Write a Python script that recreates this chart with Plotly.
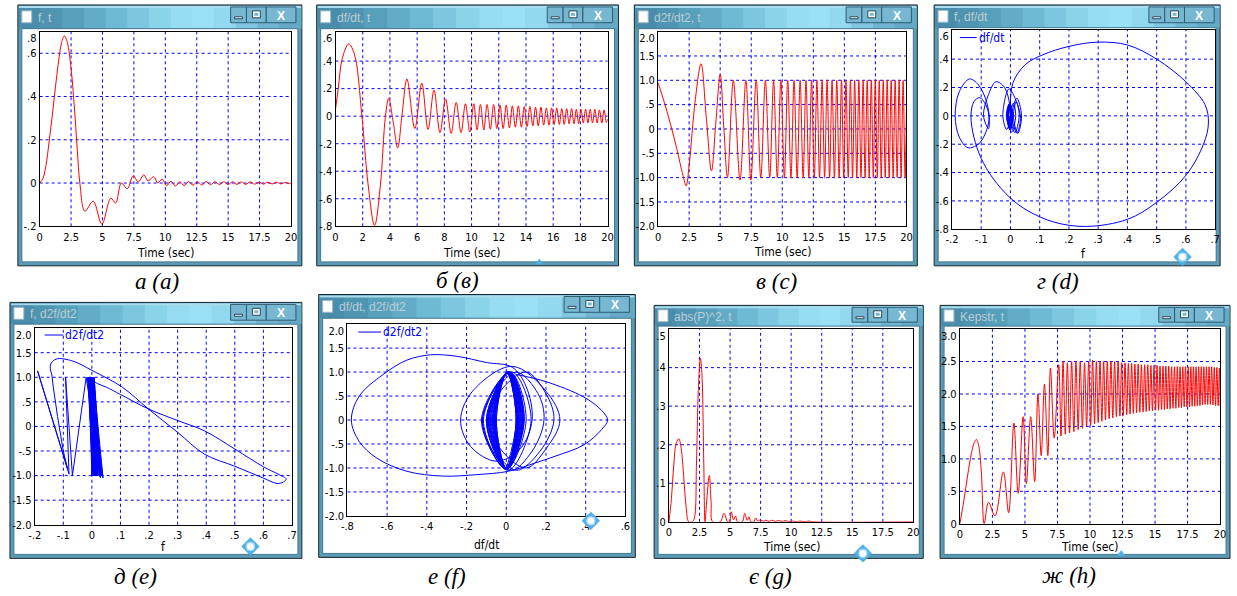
import plotly.graph_objects as go

W, H = 1237, 596

# ---------------- (a) f(t) ----------------
a_t = [0, 0.25, 0.5, 0.75, 1.0, 1.25, 1.5, 1.75, 1.97, 2.2,
       2.5, 2.75, 3.0, 3.2, 3.6, 4.26, 4.95, 5.66, 6.05, 6.5,
       6.97, 7.45, 7.84, 8.29, 8.63, 9.08, 9.4, 9.74, 10.1, 10.45,
       10.8, 11.15, 11.5, 11.85, 12.2, 12.55, 12.9, 13.25, 13.6, 13.95,
       14.3, 14.65, 15.0, 15.35, 15.7, 16.05, 16.4, 16.75, 17.1, 17.45,
       17.8, 18.15, 18.5, 18.85, 19.2, 19.55, 19.9, 20.0]
a_f = [0.0, 0.02, 0.08, 0.19, 0.31, 0.44, 0.56, 0.65, 0.68, 0.65,
       0.53, 0.36, 0.15, 0.0, -0.13, -0.084, -0.19, -0.07, -0.092, 0.0,
       -0.026, 0.034, 0.005, 0.038, 0.01, 0.03, 0.0, 0.018, -0.012, 0.008,
       -0.014, 0.006, -0.012, 0.007, -0.01, 0.006, -0.009, 0.007, -0.008, 0.006,
       -0.007, 0.006, -0.007, 0.006, -0.006, 0.005, -0.006, 0.005, -0.005, 0.004,
       -0.005, 0.004, -0.004, 0.004, -0.004, 0.003, -0.003, 0.0]

# ---------------- (b) df/dt(t) ----------------
b_t = [0, 0.2, 0.5, 0.97, 1.4, 1.94, 2.4, 2.87, 3.3, 3.67,
       3.91, 4.25, 4.57, 4.9, 5.25, 5.83, 6.34, 6.8, 7.24, 7.68,
       8.09, 8.5, 8.87, 9.23, 9.55, 9.87, 10.16, 10.4, 10.65, 10.9,
       11.14, 11.38, 11.62, 11.86, 12.09, 12.32, 12.55, 12.78, 13.0, 13.22,
       13.44, 13.66, 13.87, 14.08, 14.29, 14.5, 14.7, 14.9, 15.1, 15.3,
       15.5, 15.69, 15.88, 16.07, 16.26, 16.45, 16.63, 16.81, 16.99, 17.17,
       17.35, 17.53, 17.7, 17.87, 18.04, 18.21, 18.38, 18.55, 18.72, 18.89,
       19.06, 19.23, 19.4, 19.57, 19.74, 19.91, 20.0]
b_v = [0.05, 0.2, 0.42, 0.525, 0.445, 0.0, -0.5, -0.795, -0.5, 0.0,
       0.13, -0.05, -0.23, 0.02, 0.27, -0.09, 0.24, -0.096, 0.19, -0.12,
       0.125, -0.125, 0.10, -0.12, 0.09, -0.115, 0.09, -0.10, 0.085, -0.1,
       0.085, -0.095, 0.085, -0.09, 0.08, -0.09, 0.08, -0.085, 0.075, -0.08,
       0.075, -0.08, 0.07, -0.075, 0.07, -0.07, 0.065, -0.07, 0.065, -0.065,
       0.06, -0.065, 0.06, -0.06, 0.06, -0.06, 0.055, -0.06, 0.055, -0.055,
       0.055, -0.055, 0.05, -0.055, 0.05, -0.05, 0.05, -0.05, 0.05, -0.05,
       0.05, -0.05, 0.045, -0.05, 0.045, -0.045, -0.02]

# ---------------- (c) d2f/dt2(t) ----------------
c_t0 = [0, 0.5, 1.0, 1.5, 2.0, 2.26, 2.5, 3.0, 3.46, 3.88,
        4.3, 4.65, 5.0, 5.3, 5.59, 6.06, 6.6, 7.07, 7.47, 7.9,
        8.27, 8.64]
c_v0 = [0.95, 0.55, 0.1, -0.4, -0.95, -1.17, -0.75, 0.61, 1.34, 0.24,
        -0.86, 0.13, 1.12, 0.0, -1.0, 1.0, -1.05, 1.0, -1.05, 1.0,
        -1.0, 1.0]
c_trough_t = [8.99, 9.6, 10.17, 10.7, 11.2, 11.68, 12.14, 12.58, 13.0, 13.41,
              13.81, 14.2, 14.58, 14.95, 15.31, 15.66, 16.0, 16.34, 16.67, 17.0,
              17.33, 17.65, 17.97, 18.29, 18.61, 18.93, 19.25, 19.57, 19.89]
c_trough_v = [-1.0, -1.0, -1.0, -1.0, -1.0, -1.0, -1.0, -1.0, -1.0, -1.0,
              -1.0, -1.0, -1.0, -1.0, -1.0, -1.0, -1.0, -1.0, -1.0, -1.0,
              -1.0, -1.0, -1.0, -1.0, -1.0, -1.0, -1.0, -1.0, -1.0]
c_peak_t = [9.3, 9.89, 10.44, 10.95, 11.44, 11.91, 12.36, 12.79, 13.21, 13.61,
            14.01, 14.39, 14.77, 15.13, 15.49, 15.83, 16.17, 16.51, 16.84, 17.17,
            17.49, 17.81, 18.13, 18.45, 18.77, 19.09, 19.41, 19.73]
c_peak_v = [1.0, 1.0, 1.0, 1.0, 1.0, 1.0, 1.0, 1.0, 1.0, 1.0,
            1.0, 1.0, 1.0, 1.0, 1.0, 1.0, 1.0, 1.0, 1.0, 1.0,
            1.0, 1.0, 1.0, 1.0, 1.0, 1.0, 1.0, 1.0]
c_end_t = [20.0]
c_end_v = [0.5]

# ---------------- (d) f vs df/dt ----------------
d_x = [0.0, 0.008, 0.05, 0.11, 0.2, 0.3, 0.4, 0.5, 0.6, 0.665,
       0.677, 0.66, 0.6, 0.5, 0.4, 0.26, 0.15, 0.06, 0.0, -0.06,
       -0.1, -0.125, -0.135, -0.125, -0.105, -0.085, -0.073, -0.085, -0.11, -0.145,
       -0.175, -0.189, -0.175, -0.14, -0.11, -0.085, -0.073, -0.075, -0.092, -0.075,
       -0.05, -0.02, 0.0,
       -0.013, -0.026, -0.005, 0.034, 0.022, 0.005, 0.022, 0.038, 0.025, 0.01,
       0.02, 0.03, 0.015, 0.0, 0.01, 0.018, 0.004, -0.012, -0.002, 0.008,
       0.0, -0.014, -0.004, 0.006, -0.002, -0.012, -0.003, 0.007, -0.001, -0.01,
       -0.002, 0.006, -0.001, -0.009, -0.002, 0.006, -0.001, -0.008, -0.001, 0.005,
       0.0, -0.007, -0.001, 0.005, 0.0, -0.006, -0.001, 0.004, 0.0, -0.006,
       -0.001, 0.004, 0.0, -0.005]
d_y = [0.05, 0.23, 0.36, 0.43, 0.49, 0.52, 0.5, 0.4, 0.24, 0.08,
       -0.05, -0.2, -0.42, -0.61, -0.73, -0.78, -0.75, -0.67, -0.58, -0.44,
       -0.3, -0.15, 0.0, 0.1, 0.128, 0.08, -0.01, -0.12, -0.2, -0.225,
       -0.15, 0.0, 0.17, 0.26, 0.22, 0.12, 0.0, -0.09, 0.0, 0.15,
       0.24, 0.2, 0.0,
       -0.096, 0.0, 0.19, 0.0, -0.12, 0.0, 0.125, 0.0, -0.125, 0.0,
       0.10, 0.0, -0.12, 0.0, 0.09, 0.0, -0.115, 0.0, 0.09, 0.0,
       -0.1, 0.0, 0.085, 0.0, -0.1, 0.0, 0.085, 0.0, -0.09, 0.0,
       0.08, 0.0, -0.085, 0.0, 0.075, 0.0, -0.08, 0.0, 0.07, 0.0,
       -0.075, 0.0, 0.065, 0.0, -0.07, 0.0, 0.06, 0.0, -0.065, 0.0,
       0.055, 0.0, -0.06, 0.0]

# ---------------- (e) f vs d2f/dt2 ----------------
e_lobe_x = [0.0, 0.02, 0.05, 0.1, 0.2, 0.3, 0.394, 0.5, 0.6, 0.655,
            0.68, 0.67, 0.648, 0.6, 0.5, 0.394, 0.3, 0.198, 0.106, 0.0,
            -0.067, -0.125, -0.145, -0.14]
e_lobe_y = [0.95, 0.87, 0.8, 0.65, 0.35, 0.12, -0.09, -0.46, -0.82, -0.98,
            -1.07, -1.13, -1.16, -1.05, -0.81, -0.565, -0.12, 0.354, 0.8, 1.14,
            1.33, 1.37, 1.25, 1.05]
e_tail_x = [-0.14, -0.135, -0.12, -0.1, -0.085, -0.19, -0.08, -0.092, -0.068,
            -0.02, 0.035, -0.005, 0.039, 0.005, 0.032, 0.008, 0.028, 0.0, 0.02,
            -0.01, 0.012, -0.015, 0.006, -0.012, 0.004, -0.01, 0.008, -0.008, 0.002,
            -0.012, 0.01, -0.006, 0.0, -0.01, 0.012, -0.004, 0.003, -0.008, 0.015,
            -0.002, 0.006, -0.006, 0.018, 0.0, 0.008, -0.004, 0.022, 0.002, 0.01,
            -0.003, 0.026, 0.004, 0.014, -0.002, 0.03]
e_tail_y = [1.05, 0.8, 0.2, -0.5, -0.86, 1.13, -0.97, 1.0, -1.0,
            1.0, -1.0, 1.0, -1.05, 1.0, -1.0, 1.0, -1.02, 1.0, -1.0,
            1.0, -1.0, 1.0, -1.0, 1.0, -1.0, 1.0, -1.0, 1.0, -1.0,
            1.0, -1.0, 1.0, -1.0, 1.0, -1.0, 1.0, -1.0, 1.0, -1.0,
            1.0, -1.0, 1.0, -1.0, 1.0, -1.0, 1.0, -1.0, 1.0, -1.0,
            1.0, -1.0, 1.0, -1.0, 1.0, -1.05]

# ---------------- (f) df/dt vs d2f/dt2 ----------------
f_x = [0.05, 0.2, 0.39, 0.48, 0.51, 0.48, 0.39, 0.25, 0.143, 0.01,
       -0.15, -0.32, -0.5, -0.65, -0.74, -0.78, -0.74, -0.62, -0.5, -0.38,
       -0.25, -0.1, 0.03, 0.1, 0.13, 0.07, -0.05, -0.18, -0.23, -0.17,
       0.03, 0.2, 0.27, 0.2, 0.1, -0.03, -0.09, -0.03, 0.1, 0.2,
       0.24, 0.17, 0.05, -0.06, -0.096, -0.05, 0.05, 0.16, 0.19, 0.13,
       0.02]
f_y = [0.95, 0.8, 0.48, 0.2, 0.0, -0.2, -0.52, -0.75, -0.9, -1.07,
       -1.14, -1.17, -1.07, -0.8, -0.45, 0.0, 0.5, 0.95, 1.25, 1.36,
       1.33, 1.2, 1.1, 0.7, 0.0, -0.6, -0.86, -0.55, 0.0, 0.6,
       1.12, 0.6, 0.0, -0.6, -1.0, -0.6, 0.0, 0.6, 1.0, 0.55,
       0.0, -0.65, -1.05, -0.6, 0.0, 0.6, 1.0, 0.55, 0.0, -0.65,
       -1.05]
f_blob_x = [-0.12, 0.03, 0.125, 0.01,
            -0.125, 0.02, 0.10, 0.0,
            -0.12, 0.02, 0.09, 0.0,
            -0.115, 0.015, 0.09, 0.0,
            -0.10, 0.015, 0.085, 0.005,
            -0.10, 0.015, 0.085, 0.005,
            -0.095, 0.015, 0.085, 0.005,
            -0.09, 0.012, 0.08, 0.005,
            -0.09, 0.012, 0.08, 0.0,
            -0.085, 0.01, 0.075, 0.0,
            -0.08, 0.01, 0.075, 0.0,
            -0.08, 0.01, 0.07, 0.0,
            -0.075, 0.01, 0.07, 0.0,
            -0.07, 0.008, 0.065, 0.0,
            -0.07, 0.008, 0.065, 0.0,
            -0.065, 0.006, 0.06, 0.0,
            -0.065, 0.006, 0.06, 0.0,
            -0.06, 0.005, 0.06, 0.0,
            -0.06, 0.005, 0.055, 0.0,
            -0.06, 0.005, 0.055, 0.0,
            -0.055, 0.004, 0.055, 0.0,
            -0.055, 0.004, 0.05, 0.0,
            -0.05, 0.004, 0.05, 0.0,
            -0.05, 0.003, 0.05, 0.0]
f_blob_y = [0.0, 1.0, 0.0, -1.05,
            0.0, 1.0, 0.0, -1.03,
            0.0, 1.0, 0.0, -1.03,
            0.0, 1.0, 0.0, -1.02,
            0.0, 1.0, 0.0, -1.02,
            0.0, 1.0, 0.0, -1.02,
            0.0, 1.0, 0.0, -1.02,
            0.0, 1.0, 0.0, -1.02,
            0.0, 1.0, 0.0, -1.02,
            0.0, 1.0, 0.0, -1.02,
            0.0, 1.0, 0.0, -1.02,
            0.0, 1.0, 0.0, -1.02,
            0.0, 1.0, 0.0, -1.02,
            0.0, 1.0, 0.0, -1.02,
            0.0, 1.0, 0.0, -1.02,
            0.0, 1.0, 0.0, -1.02,
            0.0, 1.0, 0.0, -1.02,
            0.0, 1.0, 0.0, -1.02,
            0.0, 1.0, 0.0, -1.02,
            0.0, 1.0, 0.0, -1.02,
            0.0, 1.0, 0.0, -1.02,
            0.0, 1.0, 0.0, -1.02,
            0.0, 1.0, 0.0, -1.02,
            0.0, 1.0, 0.0, -1.02]

# ---------------- (g) abs(P)^2(t) ----------------
g_t = [0, 0.2, 0.4, 0.6, 0.81, 1.0, 1.2, 1.4, 1.62, 1.9,
       2.08, 2.25, 2.4, 2.57, 2.7, 2.85, 2.95, 3.1, 3.3, 3.45,
       3.57, 4.2, 4.5, 4.8, 4.95, 5.1, 5.28, 5.45, 5.6, 6.0,
       6.2, 6.4, 6.55, 6.7, 6.95, 7.1, 7.25, 7.5, 7.7, 7.9,
       8.2, 8.4, 8.7, 8.9, 9.3, 9.5, 9.9, 10.1, 10.5, 10.7,
       11.2, 11.4, 11.8, 20.0]
g_v = [0.0, 0.06, 0.15, 0.205, 0.215, 0.19, 0.12, 0.04, 0.0, 0.0,
       0.01, 0.15, 0.34, 0.425, 0.38, 0.15, 0.0, 0.06, 0.12, 0.05,
       0.0, 0.0, 0.022, 0.0, 0.0, 0.026, 0.005, 0.015, 0.0, 0.0,
       0.022, 0.004, 0.013, 0.0, 0.0, 0.01, 0.002, 0.005, 0.001, 0.004,
       0.001, 0.004, 0.001, 0.003, 0.001, 0.003, 0.0, 0.002, 0.0, 0.002,
       0.0, 0.002, 0.0, 0.0]

# ---------------- (h) Kepstr(t) ----------------
h_t0 = [0, 0.3, 0.6, 0.9, 1.1, 1.27, 1.45, 1.65, 1.87, 2.2,
        2.7, 3.34, 3.75, 4.15, 4.48, 4.86, 5.11, 5.44, 5.75, 6.0,
        6.25, 6.5, 6.76, 6.96, 7.25]
h_v0 = [0.0, 0.35, 0.75, 1.1, 1.25, 1.3, 1.2, 0.8, 0.0, 0.33,
        0.12, 0.8, 0.17, 1.55, 0.47, 1.65, 0.62, 1.65, 0.65, 2.0,
        1.05, 2.15, 1.05, 2.4, 1.32]
h_peak_t = [7.6, 7.93, 8.26, 8.59, 8.92, 9.25, 9.58, 9.9, 10.2, 10.49,
            10.77, 11.05, 11.33, 11.61, 11.89, 12.16, 12.43, 12.69, 12.95, 13.2,
            13.45, 13.7, 13.95, 14.2, 14.44, 14.68, 14.92, 15.15, 15.38, 15.61,
            15.83, 16.05, 16.27, 16.49, 16.71, 16.92, 17.13, 17.34, 17.55, 17.75,
            17.95, 18.15, 18.35, 18.55, 18.75, 18.95, 19.15, 19.35, 19.55, 19.75,
            19.95]
h_peak_v = [2.45, 2.5, 2.48, 2.5, 2.5, 2.5, 2.48, 2.5, 2.52, 2.5,
            2.5, 2.5, 2.5, 2.5, 2.5, 2.5, 2.48, 2.48, 2.47, 2.47,
            2.46, 2.46, 2.45, 2.45, 2.45, 2.44, 2.44, 2.44, 2.43, 2.43,
            2.43, 2.43, 2.42, 2.42, 2.42, 2.42, 2.42, 2.42, 2.42, 2.42,
            2.42, 2.42, 2.42, 2.42, 2.42, 2.42, 2.42, 2.42, 2.41, 2.41,
            2.4]
h_trough_t = [7.77, 8.1, 8.43, 8.76, 9.09, 9.42, 9.74, 10.05, 10.35, 10.63,
              10.91, 11.19, 11.47, 11.75, 12.03, 12.3, 12.56, 12.82, 13.08, 13.33,
              13.58, 13.83, 14.08, 14.32, 14.56, 14.8, 15.04, 15.27, 15.5, 15.72,
              15.94, 16.16, 16.38, 16.6, 16.82, 17.03, 17.24, 17.45, 17.65, 17.85,
              18.05, 18.25, 18.45, 18.65, 18.85, 19.05, 19.25, 19.45, 19.65, 19.85,
              20.0]
h_trough_v = [1.35, 1.38, 1.4, 1.42, 1.45, 1.47, 1.5, 1.52, 1.54, 1.56,
              1.58, 1.6, 1.62, 1.63, 1.65, 1.66, 1.67, 1.68, 1.69, 1.7,
              1.71, 1.72, 1.72, 1.73, 1.74, 1.74, 1.75, 1.75, 1.76, 1.76,
              1.77, 1.77, 1.78, 1.78, 1.79, 1.79, 1.8, 1.8, 1.8, 1.81,
              1.81, 1.82, 1.82, 1.83, 1.84, 1.84, 1.84, 1.83, 1.82, 1.82,
              1.82]

# ---------------- ticks & texts ----------------
time_ticks = [0, 2.5, 5, 7.5, 10, 12.5, 15, 17.5, 20]
time_labels = ['0', '2.5', '5', '7.5', '10', '12.5', '15', '17.5', '20']
time2_ticks = [0, 2, 4, 6, 8, 10, 12, 14, 16, 18, 20]
time2_labels = ['0', '2', '4', '6', '8', '10', '12', '14', '16', '18', '20']
fx_ticks = [-0.2, -0.1, 0, 0.1, 0.2, 0.3, 0.4, 0.5, 0.6, 0.7]
fx_labels = ['-.2', '-.1', '0', '.1', '.2', '.3', '.4', '.5', '.6', '.7']
dfx_ticks = [-0.8, -0.6, -0.4, -0.2, 0, 0.2, 0.4, 0.6]
dfx_labels = ['-.8', '-.6', '-.4', '-.2', '0', '.2', '.4', '.6']
a_yticks = [-0.2, 0, 0.2, 0.4, 0.6]
a_ylabels = ['-.2', '0', '.2', '.4', '.6']
b_yticks = [-0.8, -0.6, -0.4, -0.2, 0, 0.2, 0.4]
b_ylabels = ['-.8', '-.6', '-.4', '-.2', '0', '.2', '.4']
two_yticks = [-2, -1.5, -1, -0.5, 0, 0.5, 1, 1.5]
two_ylabels = ['-2.0', '-1.5', '-1.0', '-.5', '0', '.5', '1.0', '1.5']
g_yticks = [0, 0.1, 0.2, 0.3, 0.4]
g_ylabels = ['0', '.1', '.2', '.3', '.4']
h_yticks = [0, 0.5, 1, 1.5, 2, 2.5]
h_ylabels = ['0', '.5', '1.0', '1.5', '2.0', '2.5']

window_titles = ['f, t', 'df/dt, t', 'd2f/dt2, t', 'f, df/dt',
                 'f, d2f/dt2', 'df/dt, d2f/dt2', 'abs(P)^2, t', 'Kepstr, t']
captions = ['а (a)', 'б (в)', 'в (c)', 'г (d)', 'д (e)', 'е (f)', 'є (g)', 'ж (h)']

# ---------------- layout geometry (pixels) ----------------
panels = [
    dict(win=(11, 5, 298, 269), bar=24, plot=(33, 32, 287, 229), xr=[0, 20], yr=[-0.2, 0.70],
         xt=time_ticks, xl=time_labels, yt=a_yticks, yl=a_ylabels, ytop='.8',
         xtitle='Time (sec)', xty=256, cap=(152, 285), legend=None, icon=None),
    dict(win=(313, 5, 618, 269), bar=24, plot=(332, 32, 607, 229), xr=[0, 20], yr=[-0.8, 0.614],
         xt=time2_ticks, xl=time2_labels, yt=b_yticks, yl=b_ylabels, ytop='.6',
         xtitle='Time (sec)', xty=256, cap=(455, 284), legend=None, icon=('tri', 538, 266)),
    dict(win=(634, 5, 920, 269), bar=24, plot=(658, 32, 909, 229), xr=[0, 20], yr=[-2, 2],
         xt=time_ticks, xl=time_labels, yt=two_yticks, yl=two_ylabels, ytop='2.0',
         xtitle='Time (sec)', xty=255, cap=(778, 285), legend=None, icon=None),
    dict(win=(937, 5, 1226, 269), bar=23, plot=(955, 30, 1221, 232), xr=[-0.2, 0.7], yr=[-0.8, 0.608],
         xt=fx_ticks, xl=fx_labels, yt=b_yticks, yl=b_ylabels, ytop='.6',
         xtitle='f', xty=257, cap=(1062, 285), legend=('df/dt', 963, 980, 38), icon=('cross', 1188, 260)),
    dict(win=(3, 306, 298, 565), bar=22, plot=(28, 332, 288, 531), xr=[-0.2, 0.7], yr=[-2, 2],
         xt=fx_ticks, xl=fx_labels, yt=two_yticks, yl=two_ylabels, ytop='2.0',
         xtitle='f', xty=553, cap=(130, 583), legend=('d2f/dt2', 38, 57, 339), icon=('cross', 246, 553)),
    dict(win=(315, 298, 635, 564), bar=24, plot=(344, 328, 625, 522), xr=[-0.8, 0.6], yr=[-2, 2],
         xt=dfx_ticks, xl=dfx_labels, yt=two_yticks, yl=two_ylabels, ytop='2.0',
         xtitle='df/dt', xty=551, cap=(445, 583), legend=('d2f/dt2', 355, 378, 336), icon=('cross', 590, 527)),
    dict(win=(654, 309, 926, 565), bar=21, plot=(669, 333, 916, 528), xr=[0, 20], yr=[0, 0.5],
         xt=time_ticks, xl=time_labels, yt=g_yticks, yl=g_ylabels, ytop='.5',
         xtitle='Time (sec)', xty=553, cap=(772, 583), legend=None, icon=('cross', 865, 560)),
    dict(win=(943, 309, 1236, 565), bar=21, plot=(963, 333, 1226, 530), xr=[0, 20], yr=[0, 3.0],
         xt=time_ticks, xl=time_labels, yt=h_yticks, yl=h_ylabels, ytop='3.0',
         xtitle='Time (sec)', xty=554, cap=(1073, 582), legend=None, icon=('tri', 1126, 561)),
]

RED = '#ff0000'
BLUE = '#0000ff'
TICKFAM = 'Liberation Sans Narrow, DejaVu Sans Condensed, Liberation Sans, Arial, sans-serif'


def X(p):
    return p / W


def Y(p):
    return 1 - p / H


shapes = []
annos = []


def rect(x0, y0, x1, y1, fill, line=None, lw=1, layer='below'):
    shapes.append(dict(type='rect', xref='paper', yref='paper', x0=X(x0), x1=X(x1),
                       y0=Y(y1), y1=Y(y0), fillcolor=fill, layer=layer,
                       line=dict(color=line if line else fill, width=lw if line else 0)))


def text(x, y, s, size=12, color='#000', fam=TICKFAM, xanchor='center', yanchor='middle', **kw):
    annos.append(dict(x=X(x), y=Y(y), xref='paper', yref='paper', text=s, showarrow=False,
                      xanchor=xanchor, yanchor=yanchor, font=dict(size=size, color=color, family=fam),
                      **kw))


def tri(pts, color):
    p = 'M ' + ' L '.join(f'{X(a):.5f} {Y(b):.5f}' for a, b in pts) + ' Z'
    shapes.append(dict(type='path', xref='paper', yref='paper', path=p, fillcolor=color,
                       line=dict(color=color, width=0.5), layer='above'))


grad = ['#4a8dab', '#4f95b2', '#57a0bc', '#62acc7', '#6eb9d3', '#7cc7df',
        '#8ad4ea', '#96ddf1', '#9be1f5', '#92d8ee', '#80c6e0', '#6fb4d0', '#64a9c6']


def window(x0, y0, x1, y1, bar, title):
    rect(x0, y0, x1, y1, '#5b9bb6', '#17262e', 1)
    n = len(grad)
    wdt = (x1 - x0 - 2) / n
    for i, c in enumerate(grad):
        rect(x0 + 1 + i * wdt, y0 + 1, x0 + 1 + (i + 1) * wdt + 0.6, y0 + bar, c)
    rect(x0 + 1, y0 + 1, x1 - 1, y0 + 3, '#a9dcec')
    rect(x0 + 4, y0 + bar, x1 - 4, y1 - 4, '#ffffff', '#3f7890', 1)
    # icon square
    rect(x0 + 4, y0 + bar / 2 - 6, x0 + 14, y0 + bar / 2 + 6, '#ffffff', '#9ab8c6', 1)
    text(x0 + 18, y0 + bar / 2 + 1, title, size=12, color='#bccdd5',
         fam='Liberation Sans, Arial', xanchor='left')
    # buttons
    by0, by1 = y0 + 2, y0 + min(bar - 4, 18)
    for bx0, bx1 in ((x1 - 72, x1 - 56), (x1 - 56, x1 - 36), (x1 - 36, x1 - 6)):
        rect(bx0, by0, bx1, by1, '#78b7d2', '#2e5c71', 1)
    cy = (by0 + by1) / 2
    rect(x1 - 68, cy + 2, x1 - 60, cy + 4, '#ffffff', '#24495b', 1)
    rect(x1 - 50, cy - 4, x1 - 42, cy + 3, '#ffffff', '#24495b', 1)
    rect(x1 - 48, cy - 2, x1 - 44, cy + 1, '#78b7d2')
    text(x1 - 21, cy + 1, '<b>X</b>', size=12, color='#ffffff', fam='Liberation Sans, Arial')


def icon(kind, cx, cy):
    col = '#4fb0ea'
    if kind == 'tri':
        tri([(cx, cy - 4), (cx - 4, cy + 1), (cx + 4, cy + 1)], col)
        return
    tri([(cx, cy - 9), (cx - 5, cy - 4), (cx + 5, cy - 4)], col)
    tri([(cx, cy + 9), (cx - 5, cy + 4), (cx + 5, cy + 4)], col)
    tri([(cx - 9, cy), (cx - 4, cy - 5), (cx - 4, cy + 5)], col)
    tri([(cx + 9, cy), (cx + 4, cy - 5), (cx + 4, cy + 5)], col)
    shapes.append(dict(type='circle', xref='paper', yref='paper', x0=X(cx - 4), x1=X(cx + 4),
                       y0=Y(cy + 4), y1=Y(cy - 4), fillcolor='#ffffff',
                       line=dict(color='#a9d8f2', width=1.5), layer='above'))


# ---------------- assemble series ----------------
c_tail = sorted(list(zip(c_peak_t, c_peak_v)) + list(zip(c_trough_t, c_trough_v)) +
                list(zip(c_end_t, c_end_v)))
c_t = c_t0 + [p[0] for p in c_tail]
c_v = c_v0 + [p[1] for p in c_tail]
h_tail = sorted(list(zip(h_peak_t, h_peak_v)) + list(zip(h_trough_t, h_trough_v)))
h_t = h_t0 + [p[0] for p in h_tail]
h_v = h_v0 + [p[1] for p in h_tail]
f_px = f_x + f_blob_x
f_py = f_y + f_blob_y

series = [
    [(a_t, a_f, RED, 'spline')],
    [(b_t, b_v, RED, 'spline')],
    [(c_t, c_v, RED, 'spline')],
    [(d_x, d_y, BLUE, 'spline')],
    [(e_lobe_x, e_lobe_y, BLUE, 'spline'), (e_tail_x, e_tail_y, BLUE, 'linear')],
    [(f_px, f_py, BLUE, 'spline')],
    [(g_t, g_v, RED, 'spline')],
    [(h_t, h_v, RED, 'spline')],
]

fig = go.Figure()
layout = {}
for i, (p, ser) in enumerate(zip(panels, series), start=1):
    sfx = '' if i == 1 else str(i)
    xa, ya = 'x' + sfx, 'y' + sfx
    x0, y0, x1, y1 = p['win']
    window(x0, y0, x1, y1, p['bar'], window_titles[i - 1])
    px0, py0, px1, py1 = p['plot']
    ymin, ymax = p['yr']
    top_pos = ymax - 7 * (ymax - ymin) / (py1 - py0)
    layout['xaxis' + sfx] = dict(domain=[X(px0), X(px1)], range=p['xr'], anchor=ya,
                                 tickmode='array', tickvals=p['xt'], ticktext=p['xl'],
                                 showgrid=False, zeroline=False, showline=True, mirror=True,
                                 linecolor='#000000', linewidth=1, ticks='',
                                 tickfont=dict(family=TICKFAM, size=11, color='#000'),
                                 fixedrange=True)
    layout['yaxis' + sfx] = dict(domain=[Y(py1), Y(py0)], range=p['yr'], anchor=xa,
                                 tickmode='array', tickvals=p['yt'] + [top_pos],
                                 ticktext=p['yl'] + [p['ytop']],
                                 showgrid=False, zeroline=False, showline=True, mirror=True,
                                 linecolor='#000000', linewidth=1, ticks='',
                                 tickfont=dict(family=TICKFAM, size=11, color='#000'),
                                 fixedrange=True)
    # dotted blue grid at the tick positions inside the box
    xlo, xhi = p['xr']
    for v in p['xt']:
        if xlo < v < xhi:
            shapes.append(dict(type='line', xref=xa, yref=ya + ' domain', x0=v, x1=v, y0=0, y1=1,
                               line=dict(color=BLUE, width=1, dash='dot'), layer='below'))
    for v in p['yt']:
        if ymin < v < ymax:
            shapes.append(dict(type='line', xref=xa + ' domain', yref=ya, x0=0, x1=1, y0=v, y1=v,
                               line=dict(color=BLUE, width=1, dash='dot'), layer='below'))
    for sx, sy, col, shp in ser:
        fig.add_trace(go.Scatter(x=sx, y=sy, mode='lines', xaxis=xa, yaxis=ya,
                                 line=dict(color=col, width=1, shape=shp),
                                 showlegend=False, hoverinfo='skip'))
    text((px0 + px1) / 2, p['xty'], p['xtitle'], size=12, color='#000',
         fam='Liberation Sans Narrow, DejaVu Sans Condensed, Liberation Sans')
    text(p['cap'][0], p['cap'][1], '<i>' + captions[i - 1] + '</i>', size=23, color='#000',
         fam='Liberation Serif, Times New Roman, serif')
    if p['legend']:
        lab, lx0, lx1, ly = p['legend']
        shapes.append(dict(type='line', xref='paper', yref='paper', x0=X(lx0), x1=X(lx1),
                           y0=Y(ly), y1=Y(ly), line=dict(color=BLUE, width=1), layer='above'))
        text(lx1, ly, lab, size=12, color=BLUE,
             fam='Liberation Sans Narrow, DejaVu Sans Condensed, Liberation Sans', xanchor='left')
    if p['icon']:
        icon(*p['icon'])

fig.update_layout(width=W, height=H, margin=dict(l=0, r=0, t=0, b=0), autosize=False,
                  paper_bgcolor='#ffffff', plot_bgcolor='#ffffff', showlegend=False,
                  shapes=shapes, annotations=annos, **layout)

fig.write_html('out.html', config={'displayModeBar': False, 'staticPlot': True},
               post_script="document.body.style.margin='0';document.body.style.overflow='hidden';")
